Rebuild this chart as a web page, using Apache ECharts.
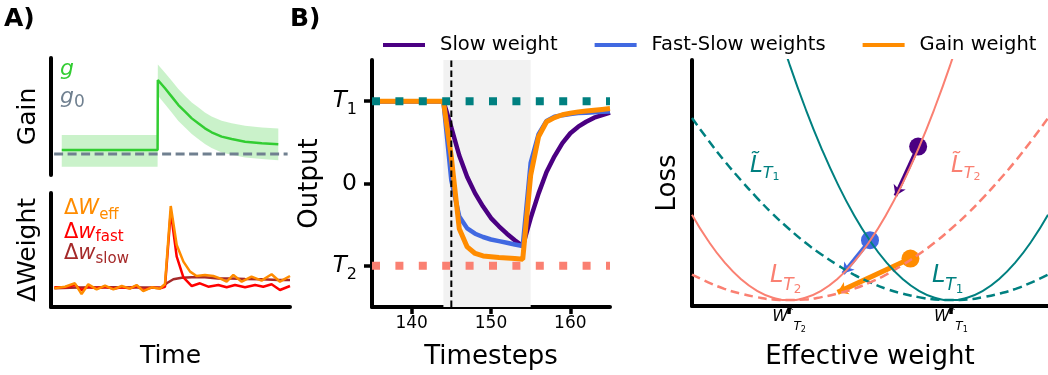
<!DOCTYPE html>
<html><head><meta charset="utf-8">
<script src="https://cdn.jsdelivr.net/npm/echarts@6/dist/echarts.min.js"></script>
<style>html,body{margin:0;padding:0;background:#fff}#c{width:1048px;height:375px}</style>
</head><body><div id="c"></div>
<script>
// ---------- Panel A: gain ----------
const gainT  = [4.5, 44.6, 44.7, 47.7, 50.5, 53.3, 56.1, 58.9, 61.6, 64.4, 67.2, 71.4, 75.6, 81.2, 88.2, 95.1];
const gainV  = [0.214, 0.214, 0.812, 0.741, 0.670, 0.598, 0.541, 0.484, 0.442, 0.399, 0.365, 0.328, 0.308, 0.285, 0.271, 0.262];
const gainHi = [0.342, 0.342, 0.945, 0.875, 0.805, 0.735, 0.675, 0.620, 0.578, 0.535, 0.500, 0.463, 0.443, 0.420, 0.406, 0.397];
const gainLo = [0.071, 0.071, 0.680, 0.605, 0.535, 0.462, 0.405, 0.350, 0.307, 0.264, 0.230, 0.193, 0.173, 0.150, 0.136, 0.127];
const g0Level = 0.179;
const g0Span = [1.3, 99];

// ---------- Panel A: weights ----------
const effW = [[1.4,.164],[5.9,.178],[10.0,.208],[12.8,.114],[15.6,.199],[19.1,.155],[22.6,.187],[26.1,.155],[29.6,.184],[33.0,.161],[35.8,.193],[38.6,.140],[42.1,.173],[45.6,.161],[47.7,.202],[50.1,.886],[52.6,.544],[55.4,.398],[58.2,.310],[60.9,.272],[64.4,.281],[67.9,.272],[70.7,.251],[73.5,.222],[76.3,.281],[79.8,.222],[83.9,.266],[88.1,.231],[92.3,.287],[95.8,.222],[100,.272]];
const fastW = [[1.4,.173],[5.9,.173],[10.0,.193],[12.8,.149],[15.6,.178],[19.1,.164],[22.6,.178],[26.1,.161],[29.6,.173],[33.0,.164],[35.8,.184],[38.6,.149],[42.1,.170],[45.6,.164],[47.7,.178],[50.1,.836],[52.6,.441],[55.4,.260],[58.9,.184],[62.3,.208],[65.8,.178],[70.0,.193],[73.5,.173],[77.0,.193],[81.2,.173],[85.4,.193],[88.8,.178],[92.3,.199],[95.8,.149],[100,.184]];
const slowW = [[1.4,.164],[11.4,.170],[25.4,.173],[39.3,.170],[46.3,.173],[48.4,.208],[51.2,.243],[54.7,.257],[58.9,.260],[64.4,.260],[70.0,.251],[75.6,.251],[81.2,.246],[88.1,.243],[95.1,.237],[100,.237]];

// ---------- Panel B: outputs ----------
const stepsB = [135,136,137,138,139,140,141,142,143,144,145,146,147,148,149,150,151,152,153,154,155,156,157,158,159,160,161,162,163,164,165];
const slowOut     = [1,1,1,1,1,1,1,1,1,1, 0.68,0.34,0.08,-0.12,-0.28,-0.42,-0.52,-0.61,-0.69,-0.76, -0.42,-0.12,0.14,0.33,0.49,0.61,0.69,0.75,0.80,0.83,0.86];
const fastSlowOut = [1,1,1,1,1,1,1,1,1,1, 0.04,-0.40,-0.545,-0.61,-0.65,-0.68,-0.70,-0.72,-0.74,-0.76, 0.25,0.60,0.76,0.81,0.83,0.845,0.855,0.86,0.865,0.87,0.875];
const gainOut     = [1,1,1,1,1,1,1,1,1,1, 0.32,-0.55,-0.77,-0.85,-0.88,-0.89,-0.90,-0.905,-0.91,-0.92, 0.10,0.57,0.75,0.80,0.835,0.855,0.87,0.88,0.89,0.90,0.91];
const targetT1 = 1, targetT2 = -1;
const shadeRange = [144, 155];
const switchStep = 145;
const bTicks = [140, 150, 160];
const bYTicks = [-1, 0, 1];

// ---------- Panel C: losses ----------
const wGrid      = [-2.2,-2.0,-1.8,-1.6,-1.4,-1.2,-1.0,-0.8,-0.6,-0.4,-0.2,0,0.2,0.4,0.6,0.8,1.0,1.2,1.4,1.6,1.8,2.0,2.2];
const lossT2     = [1.44,1.00,0.64,0.36,0.16,0.04,0,0.04,0.16,0.36,0.64,1.00,1.44,1.96,2.56,3.24,4.00,4.84,5.76,6.76,7.84,9.00,10.24];
const lossT1     = [10.24,9.00,7.84,6.76,5.76,4.84,4.00,3.24,2.56,1.96,1.44,1.00,0.64,0.36,0.16,0.04,0,0.04,0.16,0.36,0.64,1.00,1.44];
const lossT1Wide = [3.07,2.70,2.35,2.03,1.73,1.45,1.20,0.97,0.77,0.59,0.43,0.30,0.19,0.11,0.05,0.01,0,0.01,0.05,0.11,0.19,0.30,0.43];
const lossT2Wide = [0.43,0.30,0.19,0.11,0.05,0.01,0,0.01,0.05,0.11,0.19,0.30,0.43,0.59,0.77,0.97,1.20,1.45,1.73,2.03,2.35,2.70,3.07];
const optimaW = [-1, 1];   // W*_T2, W*_T1
const slowPt = [0.595, 2.59], slowEnd = [0.315, 1.76];
const fsPt   = [0.0, 1.01],   fsEnd   = [-0.332, 0.45];
const gainPt = [0.5, 0.70],   gainEnd = [-0.40, 0.13];

const FF = 'DejaVu Sans';
const C_SLOW = '#4B0082', C_FS = '#4169E1', C_GAIN = '#FF8C00';
const TEAL = '#008080', SALMON = '#FA8072';

const pairs = (xs, ys) => xs.map((x, i) => [x, ys[i]]);
const axLine = {show: true, onZero: false, lineStyle: {color: '#000', width: 4}};
const noLine = {show: false};
const nameStyle = {fontSize: 26, fontFamily: FF, color: '#000'};

const chart = echarts.init(document.getElementById('c'), null, {renderer: 'canvas', width: 1048, height: 375});

function arrow(from, to, color, width) {
  return {type: 'lines', coordinateSystem: 'cartesian2d', xAxisIndex: 3, yAxisIndex: 3, silent: true,
    symbol: ['none', 'arrow'], symbolSize: 10,
    lineStyle: {color: color, width: width, opacity: 1},
    data: [{coords: [from, to]}]};
}

const option = {
  animation: false,
  backgroundColor: '#fff',
  textStyle: {fontFamily: FF},
  legend: {
    data: ['Slow weight', 'Fast-Slow weights', 'Gain weight'],
    left: 378, top: 30, itemWidth: 42, itemHeight: 4, itemGap: 37, icon: 'rect',
    selectedMode: false,
    textStyle: {fontSize: 19.5, fontFamily: FF, color: '#000', padding: [0, 0, 0, 10]}
  },
  grid: [
    {left: 51, top: 58, width: 239, height: 117},
    {left: 51, top: 193, width: 239, height: 114},
    {left: 372, top: 60, width: 238, height: 247},
    {left: 692, top: 60, width: 356, height: 248}
  ],
  xAxis: [
    {gridIndex: 0, type: 'value', min: 0, max: 100, show: false},
    {gridIndex: 1, type: 'value', min: 0, max: 100, axisLine: axLine, axisTick: noLine, axisLabel: noLine, splitLine: noLine,
     name: 'Time', nameLocation: 'middle', nameGap: 37, nameTextStyle: {fontSize: 25, fontFamily: FF, color: '#000'}},
    {gridIndex: 2, type: 'value', min: 135, max: 165, axisLine: axLine, splitLine: noLine,
     axisTick: {show: true, length: 7, lineStyle: {width: 3.5, color: '#000'}, customValues: bTicks},
     axisLabel: {show: true, fontSize: 17, color: '#000', margin: 8, customValues: bTicks, fontFamily: FF},
     name: 'Timesteps', nameLocation: 'middle', nameGap: 37, nameTextStyle: nameStyle},
    {gridIndex: 3, type: 'value', min: -2.2, max: 2.2, axisLine: axLine, splitLine: noLine,
     axisTick: {show: true, length: 8, lineStyle: {width: 3.5, color: '#000'}, customValues: optimaW},
     axisLabel: {show: true, margin: 3, customValues: optimaW, color: '#000',
       formatter: v => v < 0 ? '{w|W}{s|*}{t|T}{n|2}' : '{w|W}{s|*}{t|T}{n|1}',
       rich: {
         w: {fontSize: 16, fontStyle: 'italic', lineHeight: 16, fontFamily: FF, color: '#000'},
         s: {fontSize: 11, lineHeight: 11, padding: [0, 0, 11, 0], fontFamily: FF, color: '#000'},
         t: {fontSize: 12, fontStyle: 'italic', lineHeight: 12, padding: [20, 0, 0, 0], fontFamily: FF, color: '#000'},
         n: {fontSize: 8, lineHeight: 8, padding: [26, 0, 0, 0], fontFamily: FF, color: '#000'}
       }},
     name: 'Effective weight', nameLocation: 'middle', nameGap: 38, nameTextStyle: nameStyle}
  ],
  yAxis: [
    {gridIndex: 0, type: 'value', min: 0, max: 1, axisLine: axLine, axisTick: noLine, axisLabel: noLine, splitLine: noLine,
     name: 'Gain', nameLocation: 'middle', nameGap: 10.5, nameTextStyle: {fontSize: 25, fontFamily: FF, color: '#000'}},
    {gridIndex: 1, type: 'value', min: 0, max: 1, axisLine: axLine, axisTick: noLine, axisLabel: noLine, splitLine: noLine,
     name: 'ΔWeight', nameLocation: 'middle', nameGap: 10.5, nameTextStyle: {fontSize: 25, fontFamily: FF, color: '#000'}},
    {gridIndex: 2, type: 'value', min: -1.5, max: 1.5, axisLine: axLine, splitLine: noLine,
     axisTick: {show: true, length: 8, lineStyle: {width: 3.5, color: '#000'}, customValues: bYTicks},
     axisLabel: {show: true, margin: 15, customValues: bYTicks, color: '#000',
       formatter: v => v === targetT1 ? '{a|T}{b|1}' : (v === targetT2 ? '{a|T}{b|2}' : '{c|0}'),
       rich: {
         a: {fontSize: 23, fontStyle: 'italic', lineHeight: 23, fontFamily: FF, color: '#000'},
         b: {fontSize: 16, lineHeight: 16, padding: [18, 0, 0, 0], fontFamily: FF, color: '#000'},
         c: {fontSize: 23.5, lineHeight: 23, fontFamily: FF, color: '#000'}
       }},
     name: 'Output', nameLocation: 'middle', nameGap: 49, nameTextStyle: nameStyle},
    {gridIndex: 3, type: 'value', min: -0.1, max: 4.05, axisLine: axLine, axisTick: noLine, axisLabel: noLine, splitLine: noLine,
     name: 'Loss', nameLocation: 'middle', nameGap: 11, nameTextStyle: nameStyle}
  ],
  series: [
    // ----- A1 gain band
    {type: 'custom', xAxisIndex: 0, yAxisIndex: 0, silent: true,
     data: [[gainT[0], gainLo[0]]],
     renderItem: (params, api) => {
       if (params.dataIndex !== 0) return;
       const pts = [];
       for (let i = 0; i < gainT.length; i++) pts.push(api.coord([gainT[i], gainHi[i]]));
       for (let i = gainT.length - 1; i >= 0; i--) pts.push(api.coord([gainT[i], gainLo[i]]));
       return {type: 'polygon', shape: {points: pts}, style: {fill: 'rgba(50,205,50,0.26)'}};
     }},
    {type: 'line', xAxisIndex: 0, yAxisIndex: 0, showSymbol: false, silent: true,
     data: [[g0Span[0], g0Level], [g0Span[1], g0Level]],
     lineStyle: {color: '#708090', width: 3, type: [9, 4.5]}},
    {type: 'line', xAxisIndex: 0, yAxisIndex: 0, showSymbol: false, silent: true,
     data: pairs(gainT, gainV), lineStyle: {color: '#32CD32', width: 2.5}},
    // ----- A2 weights
    {type: 'line', xAxisIndex: 1, yAxisIndex: 1, showSymbol: false, silent: true,
     data: slowW, lineStyle: {color: '#A52A2A', width: 2.5}},
    {type: 'line', xAxisIndex: 1, yAxisIndex: 1, showSymbol: false, silent: true,
     data: fastW, lineStyle: {color: '#FF0000', width: 2.5}},
    {type: 'line', xAxisIndex: 1, yAxisIndex: 1, showSymbol: false, silent: true,
     data: effW, lineStyle: {color: '#FF8C00', width: 2.5}},
    // ----- B curves
    {name: 'Slow weight', type: 'line', xAxisIndex: 2, yAxisIndex: 2, showSymbol: false, silent: true,
     data: pairs(stepsB, slowOut), lineStyle: {color: C_SLOW, width: 4.5}, itemStyle: {color: C_SLOW},
     markArea: {silent: true, itemStyle: {color: '#f2f2f2'}, data: [[{xAxis: shadeRange[0]}, {xAxis: shadeRange[1]}]]}},
    {name: 'Fast-Slow weights', type: 'line', xAxisIndex: 2, yAxisIndex: 2, showSymbol: false, silent: true,
     data: pairs(stepsB, fastSlowOut), lineStyle: {color: C_FS, width: 4.5}, itemStyle: {color: C_FS}},
    {name: 'Gain weight', type: 'line', xAxisIndex: 2, yAxisIndex: 2, showSymbol: false, silent: true,
     data: pairs(stepsB, gainOut), lineStyle: {color: C_GAIN, width: 5}, itemStyle: {color: C_GAIN}},
    {type: 'line', xAxisIndex: 2, yAxisIndex: 2, showSymbol: false, silent: true,
     data: [[135, targetT1], [165, targetT1]], lineStyle: {color: TEAL, width: 8, type: [8, 15.4]}},
    {type: 'line', xAxisIndex: 2, yAxisIndex: 2, showSymbol: false, silent: true,
     data: [[135, targetT2], [165, targetT2]], lineStyle: {color: SALMON, width: 8, type: [8, 15.4]}},
    {type: 'line', xAxisIndex: 2, yAxisIndex: 2, showSymbol: false, silent: true,
     data: [[switchStep, -1.5], [switchStep, 1.5]], lineStyle: {color: '#000', width: 2, type: [6.5, 3.5]}},
    // ----- C curves
    {type: 'line', xAxisIndex: 3, yAxisIndex: 3, showSymbol: false, silent: true, smooth: true,
     data: pairs(wGrid, lossT1Wide), lineStyle: {color: TEAL, width: 2.5, type: [9, 5]}},
    {type: 'line', xAxisIndex: 3, yAxisIndex: 3, showSymbol: false, silent: true, smooth: true,
     data: pairs(wGrid, lossT2Wide), lineStyle: {color: SALMON, width: 2.5, type: [9, 5]}},
    {type: 'line', xAxisIndex: 3, yAxisIndex: 3, showSymbol: false, silent: true, smooth: true,
     data: pairs(wGrid, lossT1), lineStyle: {color: TEAL, width: 2}},
    {type: 'line', xAxisIndex: 3, yAxisIndex: 3, showSymbol: false, silent: true, smooth: true,
     data: pairs(wGrid, lossT2), lineStyle: {color: SALMON, width: 2}},
    arrow(slowPt, slowEnd, C_SLOW, 4),
    arrow(fsPt, fsEnd, C_FS, 4),
    arrow(gainPt, gainEnd, C_GAIN, 5),
    {type: 'scatter', xAxisIndex: 3, yAxisIndex: 3, silent: true, symbolSize: 18,
     data: [
       {value: slowPt, itemStyle: {color: C_SLOW, opacity: 1}},
       {value: fsPt, itemStyle: {color: C_FS, opacity: 1}},
       {value: gainPt, itemStyle: {color: C_GAIN, opacity: 1}}
     ]}
  ],
  graphic: [
    {type: 'text', x: 4, y: 19, style: {text: 'A)', font: 'bold 25px "DejaVu Sans"', fill: '#000', verticalAlign: 'middle'}},
    {type: 'text', x: 290, y: 19, style: {text: 'B)', font: 'bold 25px "DejaVu Sans"', fill: '#000', verticalAlign: 'middle'}},
    {type: 'text', x: 60, y: 69.5, style: {text: 'g', font: 'italic 22px "DejaVu Sans"', fill: '#32CD32', verticalAlign: 'middle'}},
    {type: 'text', x: 60, y: 97.7, style: {text: '{g|g}{s|0}', fill: '#708090', verticalAlign: 'middle',
      rich: {g: {fontSize: 22, fontStyle: 'italic', lineHeight: 22, fontFamily: FF}, s: {fontSize: 17, lineHeight: 17, padding: [10.5, 0, 0, 0], fontFamily: FF}}}},
    {type: 'text', x: 64, y: 209, style: {text: '{d|Δ}{w|W}{s|eff}', fill: '#FF8C00', verticalAlign: 'middle',
      rich: {d: {fontSize: 21, lineHeight: 21, fontFamily: FF}, w: {fontSize: 21, fontStyle: 'italic', lineHeight: 21, fontFamily: FF}, s: {fontSize: 15, lineHeight: 15, padding: [12, 0, 0, 0], fontFamily: FF}}}},
    {type: 'text', x: 64, y: 232.5, style: {text: '{d|Δ}{w|w}{s|fast}', fill: '#FF0000', verticalAlign: 'middle',
      rich: {d: {fontSize: 21, lineHeight: 21, fontFamily: FF}, w: {fontSize: 21, fontStyle: 'italic', lineHeight: 21, fontFamily: FF}, s: {fontSize: 15, lineHeight: 15, padding: [10, 0, 0, 0], fontFamily: FF}}}},
    {type: 'text', x: 64, y: 254, style: {text: '{d|Δ}{w|w}{s|slow}', fill: '#A52A2A', verticalAlign: 'middle',
      rich: {d: {fontSize: 21, lineHeight: 21, fontFamily: FF}, w: {fontSize: 21, fontStyle: 'italic', lineHeight: 21, fontFamily: FF}, s: {fontSize: 15, lineHeight: 15, padding: [10, 0, 0, 0], fontFamily: FF}}}},
    // Panel C curve labels
    {type: 'text', x: 750, y: 166, style: {text: '{L|L\u0303}{t|T}{n|1}', fill: TEAL, verticalAlign: 'middle',
      rich: {L: {fontSize: 23, fontStyle: 'italic', lineHeight: 23, fontFamily: FF}, t: {fontSize: 16, fontStyle: 'italic', lineHeight: 16, padding: [16, 0, 0, 0], fontFamily: FF}, n: {fontSize: 11, lineHeight: 11, padding: [22, 0, 0, 0], fontFamily: FF}}}},
    {type: 'text', x: 951, y: 166, style: {text: '{L|L\u0303}{t|T}{n|2}', fill: SALMON, verticalAlign: 'middle',
      rich: {L: {fontSize: 23, fontStyle: 'italic', lineHeight: 23, fontFamily: FF}, t: {fontSize: 16, fontStyle: 'italic', lineHeight: 16, padding: [16, 0, 0, 0], fontFamily: FF}, n: {fontSize: 11, lineHeight: 11, padding: [22, 0, 0, 0], fontFamily: FF}}}},
    {type: 'text', x: 770, y: 276, style: {text: '{L|L}{t|T}{n|2}', fill: SALMON, verticalAlign: 'middle',
      rich: {L: {fontSize: 24, fontStyle: 'italic', lineHeight: 24, fontFamily: FF}, t: {fontSize: 17, fontStyle: 'italic', lineHeight: 17, padding: [20, 0, 0, 0], fontFamily: FF}, n: {fontSize: 12, lineHeight: 12, padding: [27, 0, 0, 0], fontFamily: FF}}}},
    {type: 'text', x: 932, y: 276, style: {text: '{L|L}{t|T}{n|1}', fill: TEAL, verticalAlign: 'middle',
      rich: {L: {fontSize: 24, fontStyle: 'italic', lineHeight: 24, fontFamily: FF}, t: {fontSize: 17, fontStyle: 'italic', lineHeight: 17, padding: [20, 0, 0, 0], fontFamily: FF}, n: {fontSize: 12, lineHeight: 12, padding: [27, 0, 0, 0], fontFamily: FF}}}}
  ]
};
chart.setOption(option);
</script>
</body></html>
